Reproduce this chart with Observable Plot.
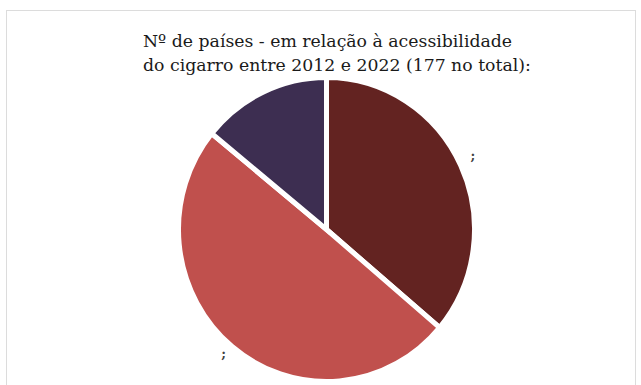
<!DOCTYPE html>
<html>
<head>
<meta charset="utf-8">
<script src="https://cdn.jsdelivr.net/npm/d3@7"></script>
<script src="https://cdn.jsdelivr.net/npm/@observablehq/plot@0.6"></script>
<style>
  html, body { margin: 0; padding: 0; background: #fff; width: 641px; height: 385px; overflow: hidden; }
  #frame { position: absolute; left: 6px; top: 10px; width: 630px; height: 420px; border: 1px solid #dcdcdc; box-sizing: border-box; }
  #title { position: absolute; left: 143px; top: 29px; font-family: "DejaVu Serif", serif; font-size: 17.3px; line-height: 24px; color: #1a1a1a; white-space: nowrap; z-index: 2; }
  #chart { position: absolute; left: 0; top: 78px; z-index: 1; }
</style>
</head>
<body>
<div id="frame"></div>
<div id="title">Nº de países - em relação à acessibilidade<br>do cigarro entre 2012 e 2022 (177 no total):</div>
<div id="chart"></div>
<script>
const categories = ["A", "B", "C"];
const values = [64, 88, 25];
const labels = [";", ";", ""];
const colors = ["#632321", "#C0504D", "#3D2E51"];

const data = categories.map((c, i) => ({category: c, value: values[i], label: labels[i]}));
const pie = d3.pie().value(d => d.value).sort(null)(data);

const pieMark = (index, scales) => {
  const cx = scales.x(0), cy = scales.y(0);
  const rx = scales.x(1) - cx;
  const ry = Math.abs(scales.y(-1) - cy);
  const k = ry / rx;
  const arc = d3.arc().innerRadius(0).outerRadius(rx);
  const lab = d3.arc().innerRadius(rx * 1.09).outerRadius(rx * 1.09);
  const g = d3.create("svg:g").attr("transform", `translate(${cx},${cy})`);
  g.append("g").attr("transform", `scale(1,${k})`)
    .selectAll("path").data(pie).join("path")
    .attr("d", arc)
    .attr("fill", d => scales.color(d.data.category))
    .attr("stroke", "#fff")
    .attr("stroke-width", 5)
    .attr("vector-effect", "non-scaling-stroke")
    .attr("stroke-linejoin", "miter");
  g.selectAll("text").data(pie).join("text")
    .attr("transform", d => { const [x, y] = lab.centroid(d); return `translate(${x},${y * k - 4})`; })
    .attr("text-anchor", "middle")
    .attr("dy", "0.35em")
    .attr("font-family", "DejaVu Serif, serif")
    .attr("font-size", 13)
    .attr("font-weight", "bold")
    .attr("fill", "#404040")
    .text(d => d.data.label);
  return g.node();
};

const plot = Plot.plot({
  width: 641,
  height: 307,
  marginLeft: 178.5,
  marginRight: 166.5,
  marginTop: -0.5,
  marginBottom: 3.5,
  style: {background: "transparent"},
  x: {domain: [-1, 1], axis: null},
  y: {domain: [-1, 1], axis: null},
  color: {domain: categories, range: colors},
  marks: [
    Plot.dot(data, {x: () => 0, y: () => 0, fill: "category", r: 0}),
    pieMark
  ]
});
document.getElementById("chart").appendChild(plot);
</script>
</body>
</html>
